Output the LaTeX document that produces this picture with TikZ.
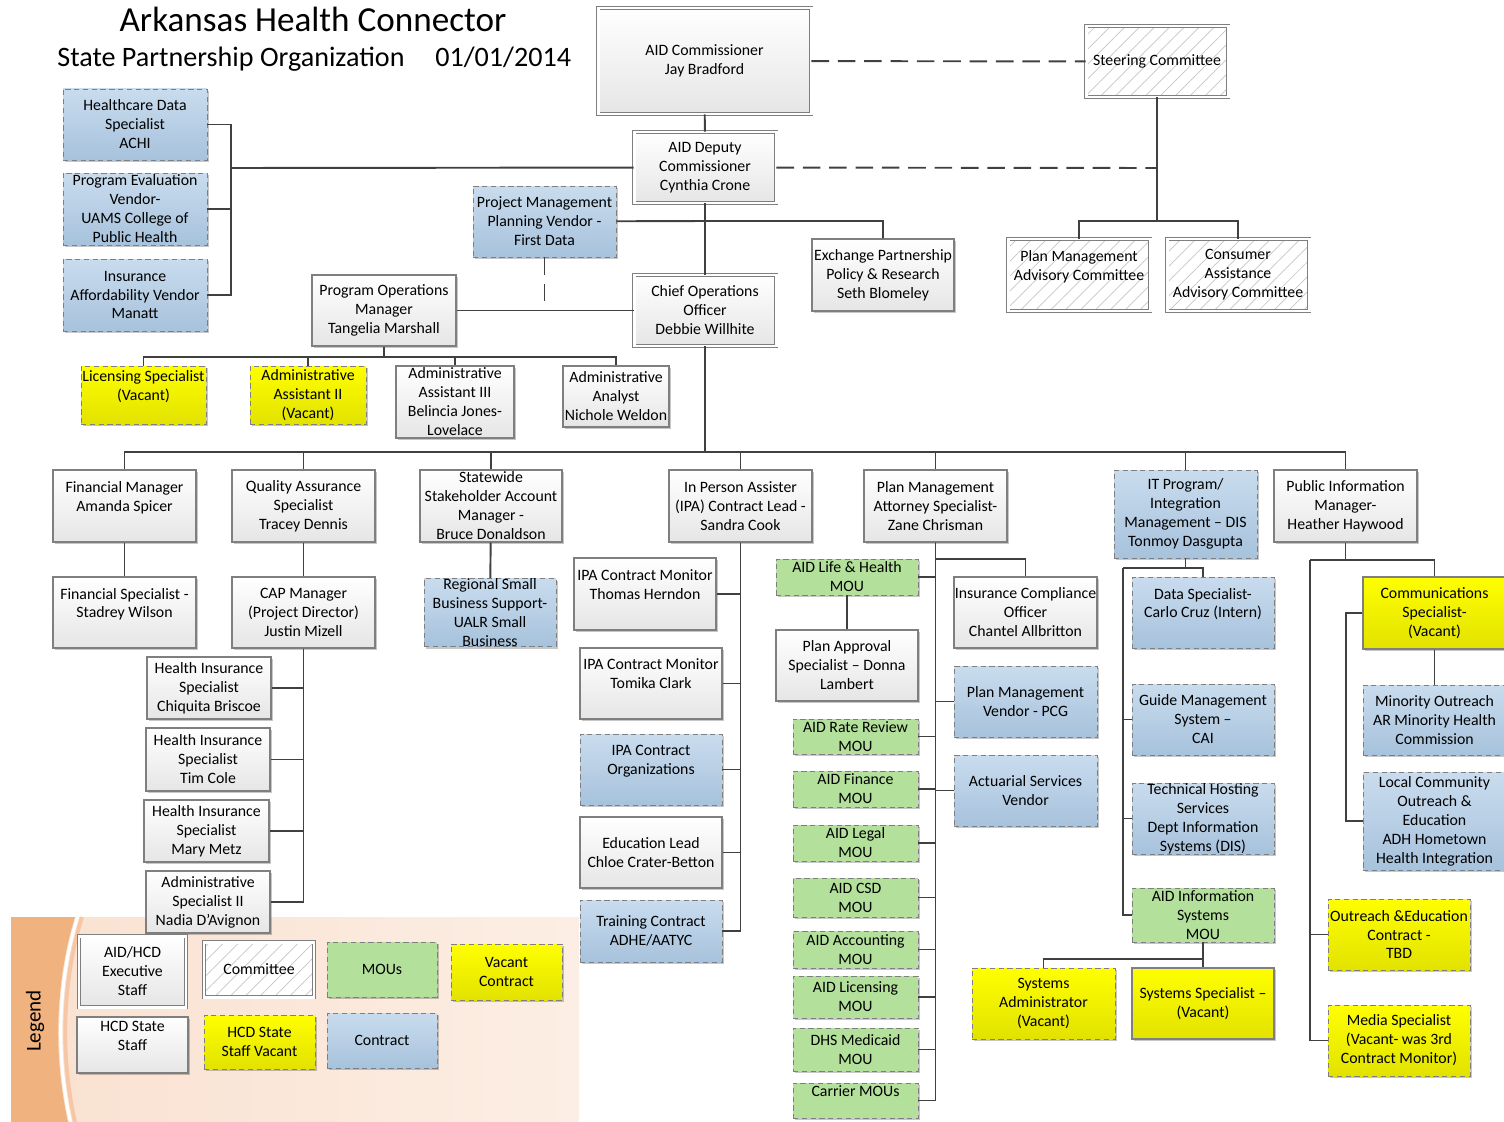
\documentclass[tikz,border=0pt]{standalone}
\usepackage{fontspec}
\setmainfont{Carlito}
\usetikzlibrary{shadows, patterns.meta}

\definecolor{lineclr}{HTML}{404040}
\definecolor{boxline}{HTML}{7F7F7F}
\definecolor{ctop}{HTML}{C9DCEE}
\definecolor{cbot}{HTML}{A7C2DC}
\definecolor{moufill}{HTML}{B3E09B}
\definecolor{vtop}{HTML}{FFFF00}
\definecolor{vbot}{HTML}{E2E200}
\definecolor{legdark}{HTML}{F0B27F}
\definecolor{legmid}{HTML}{F7C7A5}
\definecolor{leglight}{HTML}{F9E1D0}
\definecolor{legfade}{HTML}{FCEEE4}

\begin{document}
\begin{tikzpicture}[x=0.02cm, y=-0.02cm,
  every node/.style={font=\fontsize{9}{10.8}\selectfont, align=center, inner sep=0pt},
  sz/.style 2 args={minimum width=#1*0.02cm, minimum height=#2*0.02cm},
  shadowed/.style={drop shadow={shadow xshift=1.2pt, shadow yshift=-1.2pt, opacity=0.22, fill=black}},
  staff/.style={shadowed, draw=boxline, line width=0.6pt, top color=white, bottom color=gray!20},
  exec/.style={staff, double=white, double distance=1.7pt, line width=0.5pt},
  contract/.style={shadowed, draw=boxline, line width=0.5pt, densely dashed, top color=ctop, bottom color=cbot},
  mou/.style={shadowed, draw=boxline, line width=0.5pt, densely dashed, fill=moufill},
  vacant/.style={shadowed, draw=boxline, line width=0.5pt, densely dashed, top color=vtop, bottom color=vbot},
  vacantstaff/.style={vacant, solid, line width=0.6pt},
  committee/.style={shadowed, preaction={fill=white}, draw=boxline, double=white, double distance=1.7pt, line width=0.5pt, pattern={Lines[angle=45, distance=6pt, line width=0.4pt]}, pattern color=gray!45},
  link/.style={draw=lineclr, line width=1.1pt},
  dashlink/.style={link, dash pattern=on 10pt off 5pt}]
  \useasboundingbox (0,0) rectangle (1504,1122);

  \fill[left color=leglight, right color=legfade] (11,917) rectangle (579,1122);
  \fill[legdark] (11,917) -- (75,917) .. controls (54,985) and (54,1060) .. (68,1122) -- (11,1122) -- cycle;
  \draw[white, line width=1.8pt] (77.5,917) .. controls (56.5,985) and (56.5,1060) .. (70.5,1122);
  \draw[legmid, line width=2.2pt] (82,917) .. controls (61,985) and (61,1060) .. (75,1122);
  \node[rotate=90, font=\fontsize{12}{14}\selectfont] (legtitle) at (35,1021) {Legend};

  \node[font=\fontsize{20}{24}\selectfont, anchor=base] (title) at (313,32) {Arkansas Health Connector};
  \node[font=\fontsize{16}{19}\selectfont, anchor=base west] (subtitle) at (57,67) {State Partnership Organization};
  \node[font=\fontsize{16}{19}\selectfont, anchor=base west] (date) at (435,67) {01/01/2014};

  \node[exec, sz={213}{106}] (comm1) at (704.5,61) {AID Commissioner\\Jay Bradford};
  \node[committee, sz={142}{71}] (steer) at (1157,61.5) {Steering Committee};
  \node[contract, sz={144}{71}] (hds) at (135,124.5) {Healthcare Data\\Specialist\\ACHI};
  \node[contract, sz={144}{72}] (pev) at (135,209) {Program Evaluation\\Vendor-\\UAMS College of\\Public Health};
  \node[contract, sz={144}{72}] (iav) at (135,295) {Insurance\\Affordability Vendor\\Manatt};
  \node[exec, sz={142}{71}] (dep) at (705,167.5) {AID Deputy\\Commissioner\\Cynthia Crone};
  \node[contract, sz={143}{71}] (pmv) at (544.5,221.5) {Project Management\\Planning Vendor -\\First Data};
  \node[staff, sz={142}{72}] (epp) at (883,275) {Exchange Partnership\\Policy \& Research\\Seth Blomeley};
  \node[committee, sz={142}{72}] (pmac) at (1079,275) {Plan Management\\Advisory Committee\\~};
  \node[committee, sz={142}{72}] (caac) at (1238,275) {Consumer\\Assistance\\Advisory Committee};
  \node[staff, sz={144}{71}] (pom) at (384,310.5) {Program Operations\\Manager\\Tangelia Marshall};
  \node[exec, sz={142}{71}] (coo) at (705,310.5) {Chief Operations\\Officer\\Debbie Willhite};

  \node[vacant, sz={125}{58}] (lic) at (143.5,395) {Licensing Specialist\\(Vacant)\\~};
  \node[vacant, sz={116}{58}] (aa2) at (308,395) {Administrative\\Assistant II\\(Vacant)};
  \node[staff, sz={118}{72}] (aa3) at (455,402) {Administrative\\Assistant III\\Belincia Jones-\\Lovelace};
  \node[staff, sz={106}{61}] (aan) at (616,396.5) {Administrative\\Analyst\\Nichole Weldon};

  \node[staff, sz={143}{72}] (fm) at (124.5,506) {Financial Manager\\Amanda Spicer\\~};
  \node[staff, sz={143}{72}] (qa) at (303.5,506) {Quality Assurance\\Specialist\\Tracey Dennis};
  \node[staff, sz={142}{72}] (ssam) at (491,506) {Statewide\\Stakeholder Account\\Manager -\\Bruce Donaldson};
  \node[staff, sz={143}{72}] (ipa) at (740.5,506) {In Person Assister\\(IPA) Contract Lead -\\Sandra Cook};
  \node[staff, sz={143}{72}] (pma) at (935.5,506) {Plan Management\\Attorney Specialist-\\Zane Chrisman};
  \node[contract, sz={143}{88}] (it) at (1185.5,514) {IT Program/\\Integration\\Management – DIS\\Tonmoy Dasgupta};
  \node[staff, sz={143}{72}] (pim) at (1345.5,506) {Public Information\\Manager-\\Heather Haywood};

  \node[staff, sz={143}{71}] (fs) at (124.5,612.5) {Financial Specialist -\\Stadrey Wilson\\~};
  \node[staff, sz={143}{71}] (cap) at (303.5,612.5) {CAP Manager\\(Project Director)\\Justin Mizell};
  \node[contract, sz={132}{65}] (rsb) at (490,612.5) {Regional Small\\Business Support-\\UALR Small\\Business};
  \node[staff, sz={124}{62}] (hib) at (209,688) {Health Insurance\\Specialist\\Chiquita Briscoe};
  \node[staff, sz={124}{63}] (htc) at (208,759.5) {Health Insurance\\Specialist\\Tim Cole};
  \node[staff, sz={125}{62}] (hmz) at (206.5,831) {Health Insurance\\Specialist\\Mary Metz};
  \node[staff, sz={124}{62}] (nad) at (208,902) {Administrative\\Specialist II\\Nadia D’Avignon};

  \node[staff, sz={142}{72}] (thm) at (645,594) {IPA Contract Monitor\\Thomas Herndon\\~};
  \node[staff, sz={142}{71}] (tom) at (651,683.5) {IPA Contract Monitor\\Tomika Clark\\~};
  \node[contract, sz={142}{71}] (ipo) at (651,769.5) {IPA Contract\\Organizations\\~};
  \node[staff, sz={142}{71}] (edu) at (651,852.5) {Education Lead\\Chloe Crater-Betton};
  \node[contract, sz={142}{62}] (trn) at (651,931) {Training Contract\\ADHE/AATYC};

  \node[mou, sz={142}{36}] (lh) at (847,577) {AID Life \& Health\\MOU};
  \node[staff, sz={142}{71}] (pas) at (847,665.5) {Plan Approval\\Specialist – Donna\\Lambert};
  \node[mou, sz={125}{35}] (rr) at (855.5,736.5) {AID Rate Review\\MOU};
  \node[mou, sz={125}{36}] (fin) at (855.5,789) {AID Finance\\MOU};
  \node[mou, sz={125}{36}] (leg) at (855.5,843) {AID Legal\\MOU};
  \node[mou, sz={125}{39}] (csd) at (855.5,897.5) {AID CSD\\MOU};
  \node[mou, sz={125}{37}] (acc) at (855.5,949.5) {AID Accounting\\MOU};
  \node[mou, sz={125}{42}] (lcs) at (855.5,997) {AID Licensing\\MOU};
  \node[mou, sz={125}{43}] (dhs) at (855.5,1049.5) {DHS Medicaid\\MOU};
  \node[mou, sz={125}{35}] (car) at (855.5,1100.5) {Carrier MOUs\\~};

  \node[staff, sz={143}{71}] (ico) at (1025.5,612.5) {Insurance Compliance\\Officer\\Chantel Allbritton};
  \node[contract, sz={143}{71}] (pcg) at (1025.5,701.5) {Plan Management\\Vendor - PCG};
  \node[contract, sz={143}{71}] (act) at (1025.5,790.5) {Actuarial Services\\Vendor};

  \node[contract, sz={142}{71}] (ds) at (1203,612.5) {Data Specialist-\\Carlo Cruz (Intern)\\~};
  \node[contract, sz={142}{71}] (gms) at (1203,719.5) {Guide Management\\System –\\CAI};
  \node[contract, sz={142}{71}] (ths) at (1203,818.5) {Technical Hosting\\Services\\Dept Information\\Systems (DIS)};
  \node[mou, sz={142}{54}] (ais) at (1203,915) {AID Information\\Systems\\MOU};
  \node[vacant, sz={143}{71}] (sad) at (1043.5,1003.5) {Systems\\Administrator\\(Vacant)};
  \node[vacantstaff, sz={142}{71}] (ssp) at (1203,1003.5) {Systems Specialist –\\(Vacant)};

  \node[vacantstaff, sz={143}{72}] (cms) at (1434.5,613) {Communications\\Specialist-\\(Vacant)};
  \node[contract, sz={143}{70}] (mno) at (1434.5,720) {Minority Outreach\\AR Minority Health\\Commission};
  \node[contract, sz={143}{98}] (lco) at (1434.5,821) {Local Community\\Outreach \&\\Education\\ADH Hometown\\Health Integration};
  \node[vacant, sz={142}{71}] (out) at (1399,934.5) {Outreach \&Education\\Contract -\\TBD};
  \node[vacant, sz={142}{71}] (med) at (1399,1040.5) {Media Specialist\\(Vacant- was 3rd\\Contract Monitor)};

  \node[exec, sz={107}{71}] (lgx) at (132.5,971.5) {AID/HCD\\Executive\\Staff};
  \node[staff, sz={111}{56}] (lgs) at (132.5,1045) {HCD State\\Staff\\~};
  \node[committee, sz={110}{55}] (lgc) at (259,969.5) {Committee};
  \node[vacant, sz={111}{54}] (lgv) at (259.5,1042) {HCD State\\Staff Vacant};
  \node[mou, sz={110}{55}] (lgm) at (382,969.5) {MOUs};
  \node[contract, sz={110}{55}] (lgt) at (382,1040.5) {Contract};
  \node[vacant, sz={111}{56}] (lgvc) at (506.5,972) {Vacant\\Contract};

  \coordinate (lbus) at (231,168);
  \coordinate (dbus) at (705,221);
  \coordinate (stjoin) at (1157,168);
  \coordinate (stbus) at (1157,221);
  \coordinate (pbus) at (384,357);
  \coordinate (cbus) at (705,452);
  \coordinate (pmbus) at (935.5,559);
  \coordinate (itbus) at (1185.5,568);
  \coordinate (itleft) at (1123,568);
  \coordinate (sysbus) at (1203,959);
  \coordinate (pibus) at (1345.5,560);
  \coordinate (pileft) at (1310,560);
  \coordinate (cmsleft) at (1346,613);

  \draw[link] (comm1) -- (dep);
  \draw[dashlink] (comm1) -- (steer);
  \draw[dashlink] (dep) -- (stjoin);
  \draw[link] (steer) -- (stbus) -| (pmac);
  \draw[link] (stbus) -| (caac);
  \draw[link] (dep) -- (lbus);
  \foreach \n in {hds,pev,iav} \draw[link] (\n) -| (lbus);
  \draw[link] (dep) -- (coo);
  \draw[link] (pmv) -- (dbus) -| (epp);
  \draw[link] (pom) -- (coo);
  \draw[dashlink] (pmv) -- (pmv |- pom);
  \draw[link] (pom) -- (pbus);
  \foreach \n in {lic,aa2,aa3,aan} \draw[link] (pbus) -| (\n);
  \draw[link] (coo) -- (cbus);
  \foreach \n in {fm,qa,ssam,ipa,pma,it,pim} \draw[link] (cbus) -| (\n);
  \draw[link] (fm) -- (fs);
  \draw[link] (qa) -- (cap);
  \draw[link] (ssam) -- (rsb);
  \foreach \n in {hib,htc,hmz,nad} \draw[link] (cap) |- (\n);
  \foreach \n in {thm,tom,ipo,edu,trn} \draw[link] (ipa) |- (\n);
  \foreach \n in {lh,rr,fin,leg,csd,acc,lcs,dhs,car,pcg,act} \draw[link] (pma) |- (\n);
  \draw[link] (pmbus) -| (ico);
  \draw[link] (lh) -- (pas);
  \draw[link] (it) -- (itbus);
  \draw[link] (itleft) -| (ds);
  \foreach \n in {gms,ths,ais} \draw[link] (itleft) |- (\n);
  \draw[link] (ais) -- (sysbus) -| (sad);
  \draw[link] (sysbus) -- (ssp);
  \draw[link] (pim) -- (pibus) -| (cms);
  \draw[link] (pibus) -- (pileft);
  \foreach \n in {out,med} \draw[link] (pileft) |- (\n);
  \draw[link] (cms) -- (mno);
  \draw[link] (cms) -- (cmsleft) |- (lco);
\end{tikzpicture}
\end{document}
